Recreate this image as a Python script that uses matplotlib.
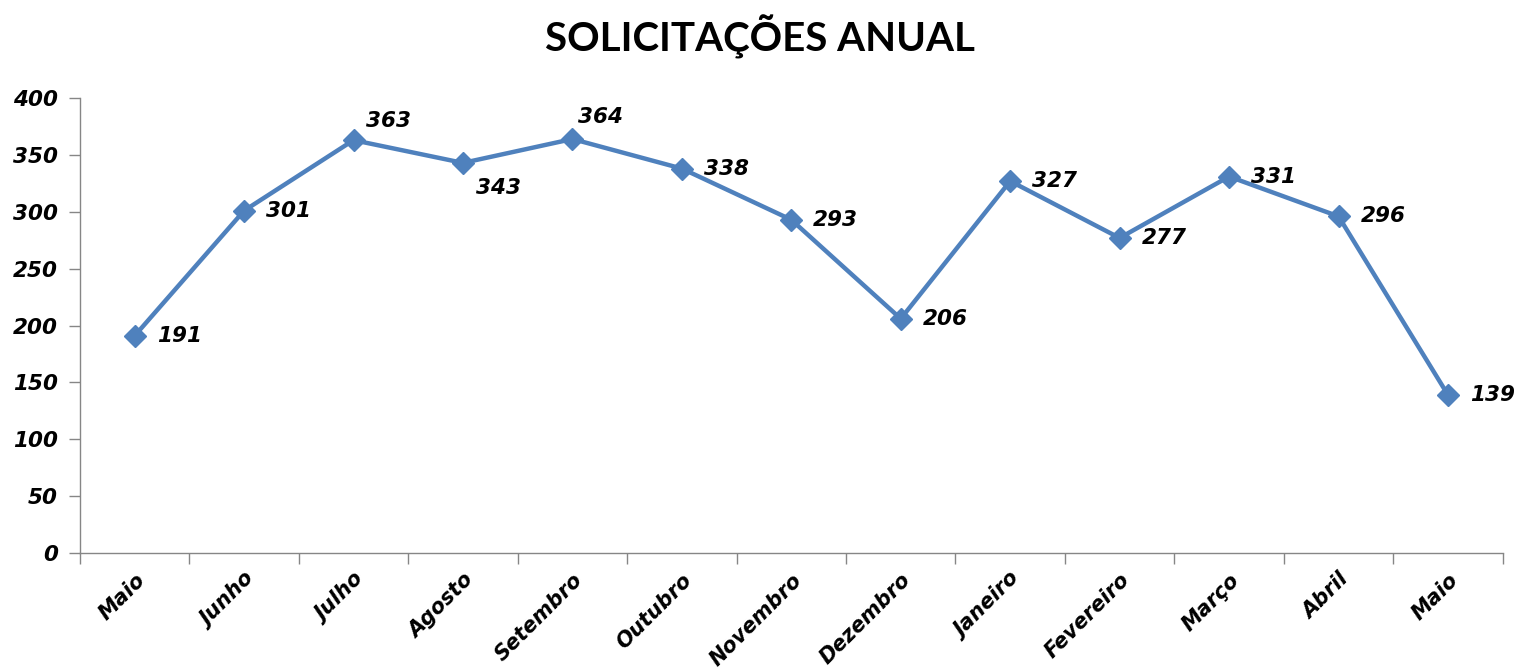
import numpy as np
import matplotlib.pyplot as plt

# monthly requests, May to May
meses = ["Maio", "Junho", "Julho", "Agosto", "Setembro", "Outubro", "Novembro",
         "Dezembro", "Janeiro", "Fevereiro", "Março", "Abril", "Maio"]
valores = [191, 301, 363, 343, 364, 338, 293, 206, 327, 277, 331, 296, 139]
yticks = [0, 50, 100, 150, 200, 250, 300, 350, 400]

# label offsets in pixels (Excel put a few above / below instead of right)
offsets = [(22, 0), (22, 0), (12, 19), (13, -25), (6, 22), (22, 0), (22, 0),
           (22, 0), (22, 0), (22, 0), (22, 0), (22, 0), (22, 0)]

plt.rcParams['font.family'] = ['DejaVu Sans']
blue = "#4F81BD"
grey = "#868686"
lab = dict(fontsize=15.5, fontweight="bold", fontstyle="italic", color="black")

fig = plt.figure(figsize=(15.2, 6.69), dpi=100)
ax = fig.add_axes([0.0526, 0.1734, 0.936, 0.680])

x = np.arange(len(meses))
ax.plot(x, valores, color=blue, linewidth=3.2, marker="D", markersize=11,
        markeredgecolor=blue, zorder=3, clip_on=False)

for xi, v, (dx, dy) in zip(x, valores, offsets):
    ax.annotate(str(v), (xi, v), xytext=(dx, dy), textcoords="offset pixels",
                ha="left", va="center", **lab)

ax.set_xlim(-0.5, len(meses) - 0.5)
ax.set_ylim(0, 400)
ax.set_yticks(yticks)
ax.set_yticklabels([str(t) for t in yticks], **lab)

ax.set_xticks(x)
ax.set_xticklabels(meses, rotation=45, ha="right", rotation_mode="anchor",
                   **{**lab, "fontsize": 15})
ax.set_xticks(np.arange(-0.5, len(meses)), minor=True)
ax.tick_params(axis="x", which="major", length=0, pad=12)
ax.tick_params(axis="x", which="minor", length=8, color=grey, width=1)
ax.tick_params(axis="y", length=8, color=grey, width=1, pad=8)

for s in ["top", "right"]:
    ax.spines[s].set_visible(False)
for s in ["left", "bottom"]:
    ax.spines[s].set_color(grey)
    ax.spines[s].set_linewidth(1)

fig.suptitle("SOLICITAÇÕES ANUAL", x=0.5, y=0.978, fontsize=29,
             fontweight="bold", va="top", family=["Lato", "DejaVu Sans"])

fig.savefig("out.png", dpi=100)
